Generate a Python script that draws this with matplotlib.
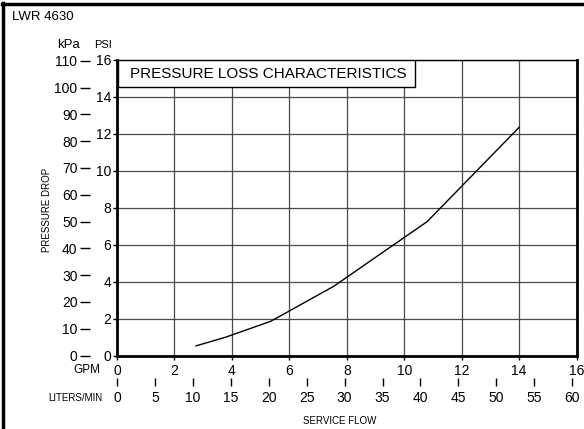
import numpy as np
import matplotlib
matplotlib.use('Agg')
import matplotlib.pyplot as plt
from matplotlib.patches import Rectangle
from matplotlib.lines import Line2D

# data
flow_gpm = [2.75, 3.8, 5.35, 7.55, 10.8, 14.0]
drop_psi = [0.52, 1.0, 1.85, 3.75, 7.25, 12.35]

psi_ticks = [0, 2, 4, 6, 8, 10, 12, 14, 16]
kpa_ticks = [0, 10, 20, 30, 40, 50, 60, 70, 80, 90, 100, 110]
gpm_ticks = [0, 2, 4, 6, 8, 10, 12, 14, 16]
lpm_ticks = [0, 5, 10, 15, 20, 25, 30, 35, 40, 45, 50, 55, 60]

KPA_PER_PSI = 6.89476
GPM_PER_LPM = 0.264172

plt.rcParams['font.family'] = ['Liberation Sans', 'DejaVu Sans']

dpi = 100
fig = plt.figure(dpi=dpi, figsize=(584 / dpi, 429 / dpi))
ax = fig.add_axes([117 / 584, 1 - 355.5 / 429, 459.5 / 584, 295.5 / 429])

ax.plot(flow_gpm, drop_psi, color='black', lw=1.0, zorder=4)

ax.set_xlim(0, 16)
ax.set_ylim(0, 16)
ax.set_xticks(gpm_ticks)
ax.set_yticks(psi_ticks)
ax.grid(True, color='#4a4a4a', lw=0.9, zorder=1)
ax.set_axisbelow(True)

for s in ['left', 'bottom', 'right']:
    ax.spines[s].set_linewidth(2.0)
ax.spines['top'].set_linewidth(1.0)

ax.tick_params(axis='y', direction='out', length=3, width=1, pad=1, labelsize=10)
ax.tick_params(axis='x', direction='out', length=3, width=1, pad=3, labelsize=10)

# kPa scale on the left
kpa = ax.secondary_yaxis(-27 / 459.5, functions=(lambda p: p * KPA_PER_PSI,
                                                  lambda k: k / KPA_PER_PSI))
kpa.set_yticks(kpa_ticks)
kpa.spines['left'].set_visible(False)
kpa.tick_params(direction='out', length=7, width=1, pad=2, labelsize=10)

# liters/min scale below
lpm = ax.secondary_xaxis(-22.5 / 295.5, functions=(lambda g: g / GPM_PER_LPM,
                                                     lambda l: l * GPM_PER_LPM))
lpm.set_xticks(lpm_ticks)
lpm.spines['bottom'].set_visible(False)
lpm.tick_params(direction='out', length=6, width=1, pad=3, labelsize=10)

# title box
ax.add_patch(Rectangle((0.002, 0.9086), 0.647, 0.0914, transform=ax.transAxes,
                       facecolor='white', edgecolor='black', lw=1.0, zorder=3))
ax.text(13 / 459.5, 0.954, 'PRESSURE LOSS CHARACTERISTICS', transform=ax.transAxes,
        fontsize=11, va='center', ha='left', zorder=5)

# labels around
fig.text(12 / 584, 1 - 17 / 429, 'LWR 4630', fontsize=9.5, va='center', ha='left')
fig.text(69 / 584, 1 - 45 / 429, 'kPa', fontsize=9.5, va='center', ha='center')
fig.text(103 / 584, 1 - 45 / 429, 'PSI', fontsize=8, va='center', ha='center')
fig.text(47 / 584, 1 - 210 / 429, 'PRESSURE DROP', fontsize=7, rotation=90,
         va='center', ha='center')
fig.text(100 / 584, 1 - 370 / 429, 'GPM', fontsize=8.5, va='center', ha='right')
fig.text(102 / 584, 1 - 398 / 429, 'LITERS/MIN', fontsize=7, va='center', ha='right')
fig.text(340 / 584, 1 - 421 / 429, 'SERVICE FLOW', fontsize=7, va='center', ha='center')

# outer frame
fig.add_artist(Line2D([3 / 584, 3 / 584], [0, 1 - 3 / 429], transform=fig.transFigure,
                      color='black', lw=2.5))
fig.add_artist(Line2D([2 / 584, 1], [1 - 4 / 429, 1 - 4 / 429], transform=fig.transFigure,
                      color='black', lw=2.5))

fig.savefig('out.png', dpi=dpi)
